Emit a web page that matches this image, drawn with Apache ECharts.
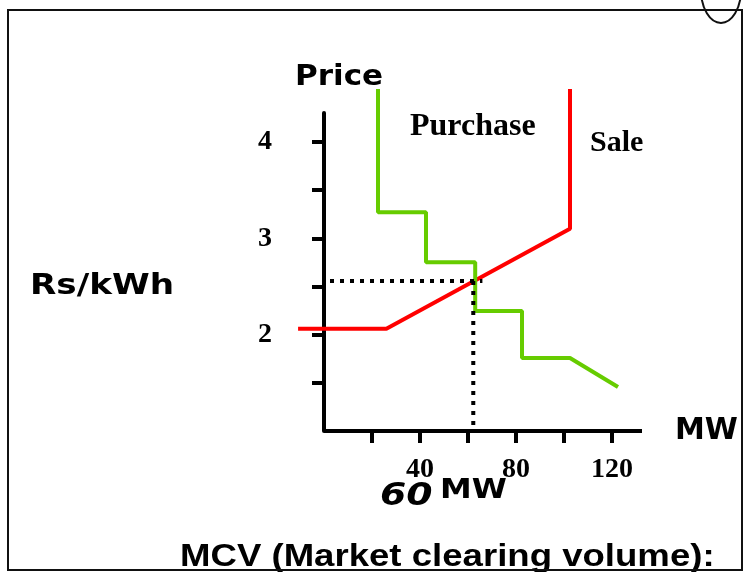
<!DOCTYPE html>
<html>
<head>
<meta charset="utf-8">
<script src="https://cdn.jsdelivr.net/npm/echarts@6/dist/echarts.min.js"></script>
<style>
  html, body { margin: 0; padding: 0; background: #fff; }
  #chart { width: 746px; height: 572px; }
</style>
</head>
<body>
<div id="chart"></div>
<script>
  // sale (supply) curve, MW vs Rs/kWh
  var saleMW = [-10.8, 26, 102.5, 102.5];
  var salePrice = [2.06, 2.06, 3.1, 4.55];
  // purchase (demand) curve
  var purchaseMW = [22.5, 22.5, 42.5, 42.5, 63, 63, 82.5, 82.5, 102.5, 122.5];
  var purchasePrice = [4.55, 3.27, 3.27, 2.75, 2.75, 2.245, 2.245, 1.757, 1.757, 1.456];
  // clearing point guide lines
  var clearHMW = [2.5, 66];
  var clearHPrice = [2.556, 2.556];
  var clearVMW = [62.2, 62.2];
  var clearVPrice = [2.556, 1.06];
  // axis ticks / labels
  var xTicks = [20, 40, 60, 80, 100, 120];
  var xLabels = [40, 80, 120];
  var yTicks = [1.5, 2, 2.5, 3, 3.5, 4];
  var yLabels = [2, 3, 4];
  var xMin = -11, xMax = 132.5, yMin = 1, yMax = 4.3;

  function pairs(xs, ys) {
    return xs.map(function (x, i) { return [x, ys[i]]; });
  }

  var chart = echarts.init(document.getElementById('chart'));
  var numFont = {
    color: '#000',
    fontFamily: 'Liberation Serif',
    fontWeight: 'bold',
    fontSize: 28
  };
  var sans = 'DejaVu Sans';
  var pxPerMW = 2.4;

  function label(text, x, y, font, sx) {
    return {
      type: 'text', x: x, y: y, scaleX: sx || 1,
      style: { text: text, fill: '#000', font: font, textVerticalAlign: 'middle' }
    };
  }

  chart.setOption({
    animation: false,
    backgroundColor: '#fff',
    grid: {
      left: 324 + xMin * pxPerMW,
      top: 113,
      width: (xMax - xMin) * pxPerMW,
      height: 318,
      containLabel: false,
      outerBoundsMode: 'none'
    },
    xAxis: {
      type: 'value',
      min: xMin,
      max: xMax,
      name: 'MW',
      nameLocation: 'end',
      nameGap: 33,
      nameTextStyle: { color: '#000', fontFamily: sans, fontWeight: 'bold', fontSize: 30 },
      axisLine: { show: false, onZero: false },
      axisTick: { show: true, length: 12, customValues: xTicks, lineStyle: { color: '#000', width: 4 } },
      axisLabel: Object.assign({ customValues: xLabels, margin: 25 }, numFont),
      splitLine: { show: false }
    },
    yAxis: {
      type: 'value',
      min: yMin,
      max: yMax,
      axisLine: { show: true, onZero: true, lineStyle: { color: '#000', width: 4 } },
      axisTick: { show: true, length: 12, customValues: yTicks, lineStyle: { color: '#000', width: 4 } },
      axisLabel: Object.assign({ customValues: yLabels, margin: 52 + xMin * pxPerMW }, numFont),
      splitLine: { show: false }
    },
    series: [
      {
        // x axis line, starting at the price axis
        type: 'line',
        data: [],
        silent: true,
        clip: false,
        markLine: {
          silent: true,
          symbol: ['none', 'none'],
          label: { show: false },
          lineStyle: { color: '#000', width: 4, type: 'solid' },
          data: [[{ coord: [0, yMin] }, { coord: [xMax, yMin] }]]
        }
      },
      {
        name: 'Sale',
        type: 'line',
        data: pairs(saleMW, salePrice),
        symbol: 'none',
        clip: false,
        lineStyle: { color: '#ff0000', width: 4 }
      },
      {
        name: 'Purchase',
        type: 'line',
        data: pairs(purchaseMW, purchasePrice),
        symbol: 'none',
        clip: false,
        lineStyle: { color: '#66cc00', width: 4 }
      },
      {
        type: 'line',
        data: pairs(clearHMW, clearHPrice),
        symbol: 'none',
        lineStyle: { color: '#000', width: 4, type: [4, 6] }
      },
      {
        type: 'line',
        data: pairs(clearVMW, clearVPrice),
        symbol: 'none',
        lineStyle: { color: '#000', width: 4, type: [4, 6] }
      }
    ],
    graphic: [
      label('Price', 295, 77.5, 'bold 29px "DejaVu Sans"', 1.07),
      label('Rs/kWh', 30, 286, 'bold 29px "DejaVu Sans"', 1.18),
      label('Purchase', 410, 126.5, 'bold 32px "Liberation Serif"'),
      label('Sale', 590, 143, 'bold 30px "Liberation Serif"'),
      label('60', 380, 497, 'italic bold 32px "DejaVu Sans"', 1.18),
      label('MW', 440, 490.5, 'bold 27px "DejaVu Sans"', 1.18),
      label('MCV (Market clearing volume):', 180, 557.5, 'bold 31px "Liberation Sans"', 1.18),
      { type: 'rect', shape: { x: 8, y: 10, width: 734, height: 560 }, style: { fill: null, stroke: '#111', lineWidth: 2 }, z: 100 },
      { type: 'ellipse', shape: { cx: 721, cy: -10, rx: 20, ry: 33 }, style: { fill: null, stroke: '#111', lineWidth: 2 }, z: 100 }
    ]
  });
</script>
</body>
</html>
